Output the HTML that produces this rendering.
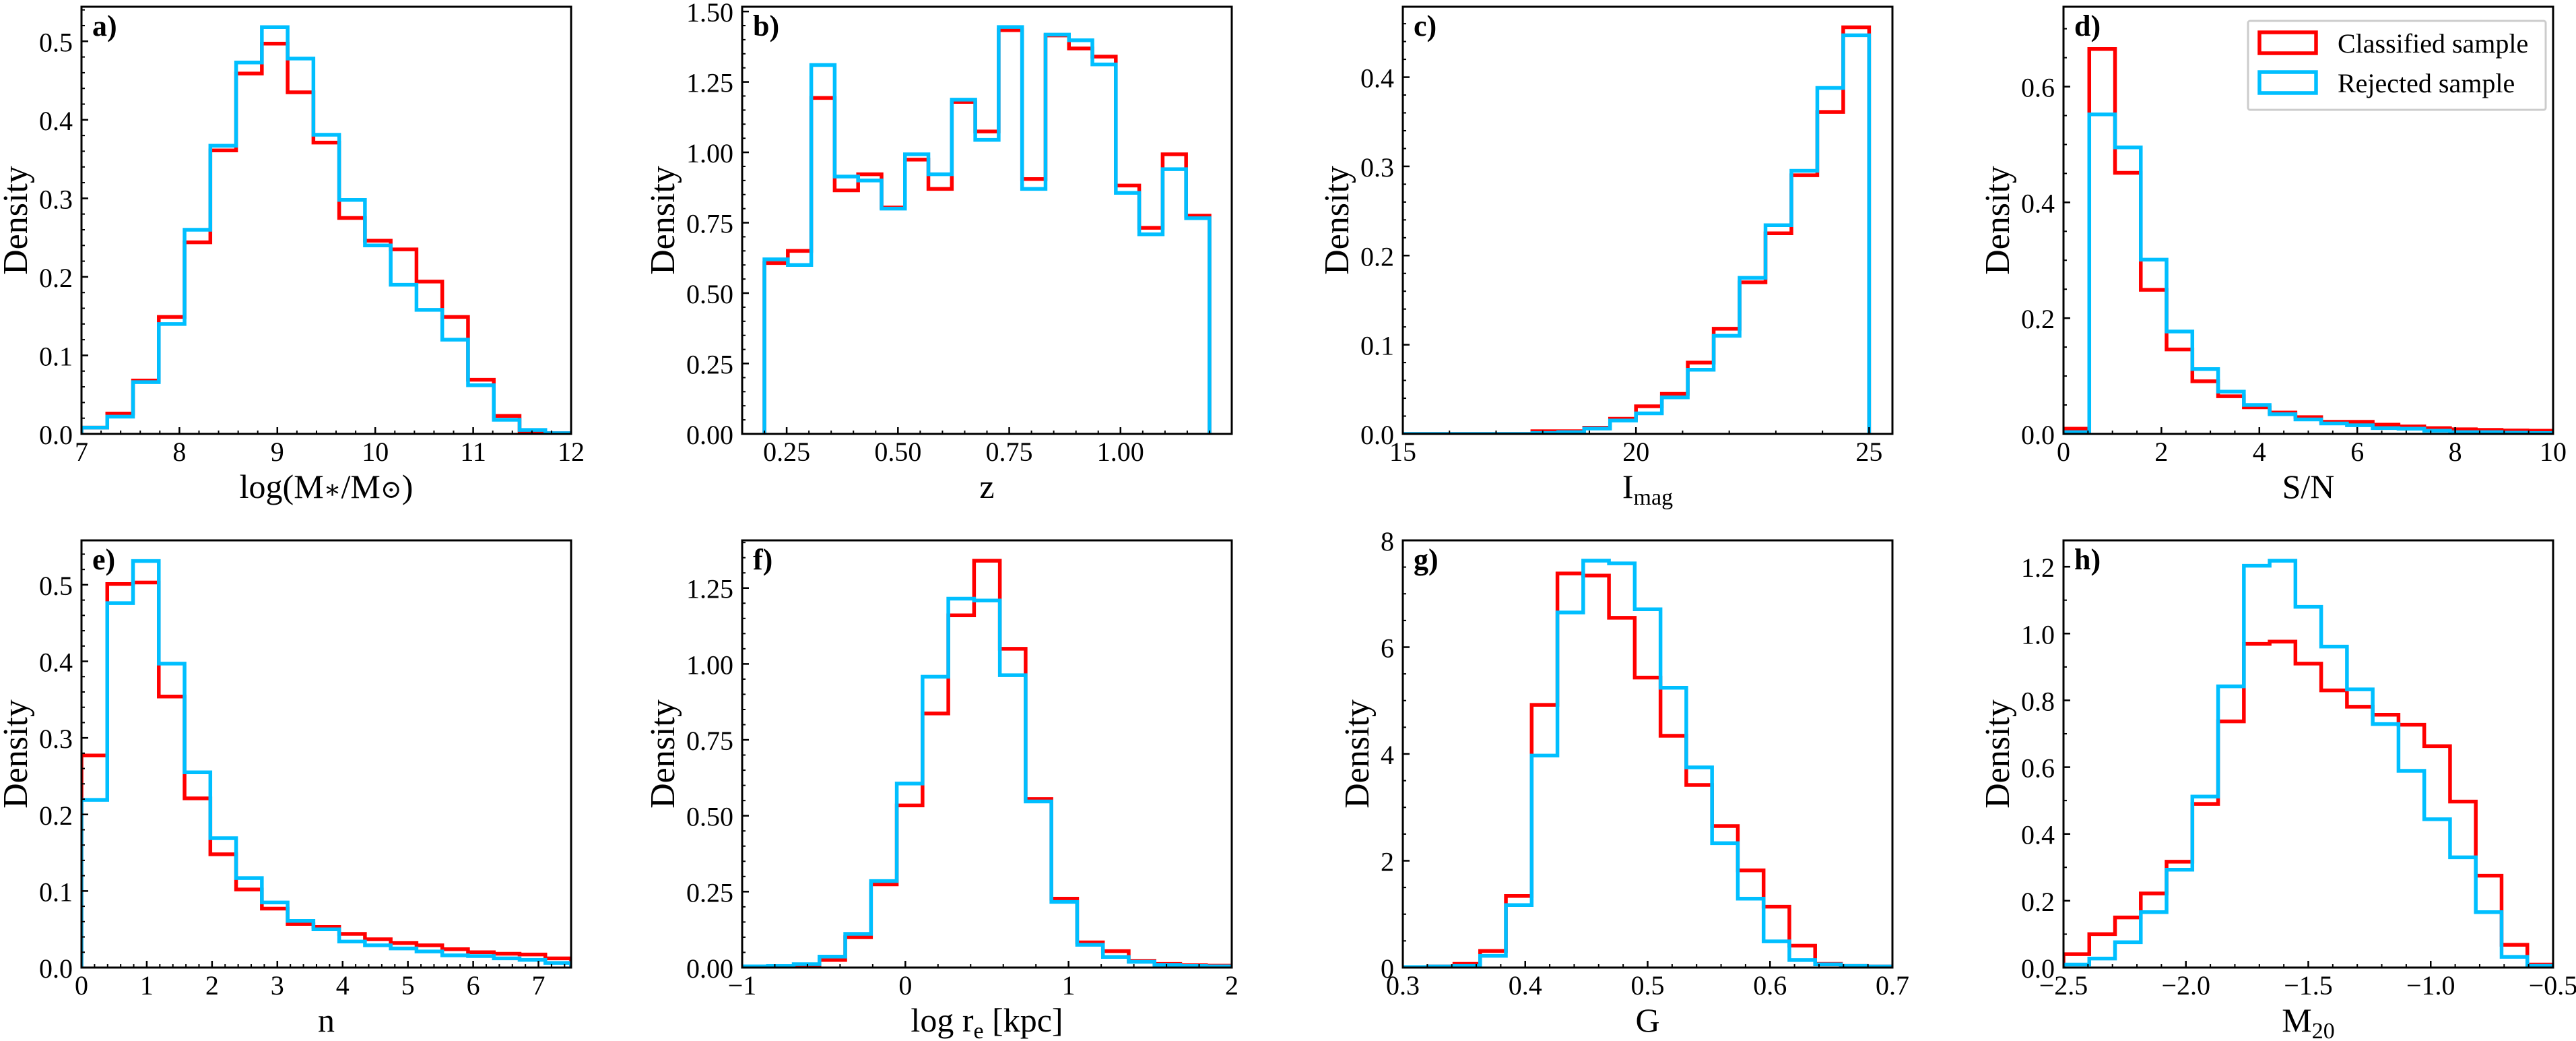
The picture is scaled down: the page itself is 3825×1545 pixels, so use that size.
<!DOCTYPE html>
<html><head><meta charset="utf-8"><style>
html,body{margin:0;padding:0;background:#fff;}
svg{display:block;font-family:"Liberation Serif","DejaVu Serif",serif;}
</style></head><body>
<svg id="fig" xmlns="http://www.w3.org/2000/svg" width="3825" height="1545" viewBox="0 0 3825 1545">
<rect x="0" y="0" width="3825" height="1545" fill="#fff"/>
</svg>
<script>
// ---- data ----
const aRed  = [0.008,0.026,0.068,0.149,0.244,0.361,0.459,0.497,0.435,0.371,0.275,0.246,0.235,0.194,0.149,0.069,0.023,0.001,0.001];
const aBlue = [0.008,0.022,0.066,0.140,0.260,0.367,0.473,0.518,0.478,0.381,0.298,0.240,0.190,0.158,0.120,0.062,0.018,0.005,0.001];
const bRed  = [0.607,0.650,1.193,0.865,0.922,0.804,0.974,0.870,1.179,1.074,1.434,0.905,1.415,1.369,1.340,0.882,0.732,0.993,0.775];
const bBlue = [0.620,0.600,1.310,0.914,0.900,0.800,0.993,0.922,1.187,1.044,1.445,0.870,1.418,1.398,1.312,0.856,0.709,0.940,0.766];
const cRed  = [0,0,0,0,0,0.003,0.003,0.007,0.017,0.031,0.045,0.080,0.118,0.170,0.225,0.290,0.361,0.456];
const cBlue = [0,0,0,0,0,0.001,0.002,0.006,0.015,0.023,0.041,0.072,0.110,0.175,0.234,0.295,0.388,0.447];
const dRed  = [0.009,0.665,0.451,0.249,0.146,0.091,0.065,0.046,0.037,0.029,0.021,0.021,0.016,0.013,0.010,0.008,0.007,0.006,0.0055];
const dBlue = [0.003,0.552,0.495,0.301,0.177,0.112,0.073,0.050,0.034,0.025,0.018,0.015,0.010,0.009,0.0055,0.003,0.003,0.002,0.0015];
const eRed  = [0.277,0.501,0.503,0.354,0.221,0.148,0.102,0.077,0.057,0.053,0.044,0.037,0.032,0.029,0.024,0.020,0.018,0.017,0.012];
const eBlue = [0.219,0.476,0.531,0.397,0.255,0.169,0.117,0.085,0.061,0.050,0.034,0.029,0.025,0.021,0.016,0.015,0.012,0.010,0.006];
const fRed  = [0.003,0.003,0.005,0.025,0.100,0.274,0.534,0.837,1.160,1.340,1.050,0.555,0.227,0.083,0.054,0.022,0.012,0.008,0.006];
const fBlue = [0.004,0.005,0.011,0.036,0.111,0.285,0.606,0.958,1.215,1.209,0.963,0.547,0.216,0.075,0.035,0.019,0.009,0.005,0.004];
const gRed  = [0.01,0.02,0.07,0.31,1.34,4.92,7.38,7.34,6.55,5.43,4.34,3.42,2.65,1.82,1.14,0.41,0.07,0.03,0.02];
const gBlue = [0.01,0.02,0.03,0.22,1.17,3.97,6.65,7.62,7.57,6.71,5.24,3.75,2.33,1.29,0.49,0.14,0.06,0.03,0.02];
const hRed  = [0.040,0.100,0.150,0.222,0.317,0.490,0.737,0.969,0.976,0.910,0.830,0.781,0.757,0.727,0.663,0.497,0.275,0.068,0.009];
const hBlue = [0.009,0.027,0.076,0.166,0.293,0.512,0.842,1.203,1.218,1.080,0.961,0.833,0.729,0.589,0.444,0.330,0.166,0.032,0.005];

const aXTicks = ["7","8","9","10","11","12"];
const aYTicks = ["0.0","0.1","0.2","0.3","0.4","0.5"];
const bXTicks = ["0.25","0.50","0.75","1.00"];
const bYTicks = ["0.00","0.25","0.50","0.75","1.00","1.25","1.50"];
const cXTicks = ["15","20","25"];
const cYTicks = ["0.0","0.1","0.2","0.3","0.4"];
const dXTicks = ["0","2","4","6","8","10"];
const dYTicks = ["0.0","0.2","0.4","0.6"];
const eXTicks = ["0","1","2","3","4","5","6","7"];
const eYTicks = ["0.0","0.1","0.2","0.3","0.4","0.5"];
const fXTicks = ["−1","0","1","2"];
const fYTicks = ["0.00","0.25","0.50","0.75","1.00","1.25"];
const gXTicks = ["0.3","0.4","0.5","0.6","0.7"];
const gYTicks = ["0","2","4","6","8"];
const hXTicks = ["−2.5","−2.0","−1.5","−1.0","−0.5"];
const hYTicks = ["0.0","0.2","0.4","0.6","0.8","1.0","1.2"];
const legendLabels = ["Classified sample","Rejected sample"];

const NS = "http://www.w3.org/2000/svg";
const svg = document.getElementById('fig');
const W = 727, H = 634;
const RED = "#ff0000", BLUE = "#00bfff";

const panels = [
 {id:"a", left:121, top:10, xlim:[7,12], ylim:[0,0.544], bins:[7,12], red:aRed, blue:aBlue, xt:aXTicks, yt:aYTicks, xm:0.2, ym:0.02, xlabel:[["log(M",0],["∗",0,"s"],["/M",0],["⊙",0,"s"],[")",0]]},
 {id:"b", left:1102, top:10, xlim:[0.15,1.25], ylim:[0,1.517], bins:[0.2,1.2], red:bRed, blue:bBlue, xt:bXTicks, yt:bYTicks, xm:0.05, ym:0.05, xlabel:[["z",0]]},
 {id:"c", left:2083, top:10, xlim:[15,25.5], ylim:[0,0.479], bins:[15,25], red:cRed, blue:cBlue, xt:cXTicks, yt:cYTicks, xm:1, ym:0.02, xlabel:[["I",0],["mag",1]]},
 {id:"d", left:3064, top:10, xlim:[0,10], ylim:[0,0.738], bins:[0,10], red:dRed, blue:dBlue, xt:dXTicks, yt:dYTicks, xm:0.5, ym:0.05, xlabel:[["S/N",0]], legend:true},
 {id:"e", left:121, top:802, xlim:[0,7.5], ylim:[0,0.558], bins:[0,7.5], red:eRed, blue:eBlue, xt:eXTicks, yt:eYTicks, xm:0.2, ym:0.02, xlabel:[["n",0]]},
 {id:"f", left:1102, top:802, xlim:[-1,2], ylim:[0,1.407], bins:[-1,2], red:fRed, blue:fBlue, xt:fXTicks, yt:fYTicks, xm:0.2, ym:0.05, xlabel:[["log r",0],["e",1],[" [kpc]",0]]},
 {id:"g", left:2083, top:802, xlim:[0.3,0.7], ylim:[0,8.0], bins:[0.3,0.7], red:gRed, blue:gBlue, xt:gXTicks, yt:gYTicks, xm:0.02, ym:0.5, xlabel:[["G",0]]},
 {id:"h", left:3064, top:802, xlim:[-2.5,-0.5], ylim:[0,1.279], bins:[-2.5,-0.5], red:hRed, blue:hBlue, xt:hXTicks, yt:hYTicks, xm:0.1, ym:0.1, xlabel:[["M",0],["20",1]]}
];

function mk(tag, attrs, parent){
  const el = document.createElementNS(NS, tag);
  for (const k in attrs) el.setAttribute(k, attrs[k]);
  (parent||svg).appendChild(el);
  return el;
}
const num = s => parseFloat(s.replace('−','-'));

panels.forEach(p => {
  const g = mk('g', {});
  
  
  const L = p.left, T = p.top, B = T + H;
  const sx = v => L + (v - p.xlim[0]) / (p.xlim[1] - p.xlim[0]) * W;
  const sy = v => B - (v - p.ylim[0]) / (p.ylim[1] - p.ylim[0]) * H;

  const defs = mk('defs', {}, g);
  const cp = mk('clipPath', {id:'clip-' + p.id}, defs);
  mk('rect', {x:L, y:T, width:W, height:H}, cp);

  [[p.red, RED, 'classified'], [p.blue, BLUE, 'rejected']].forEach(([vals, col, nm]) => {
    const n = vals.length, w = (p.bins[1] - p.bins[0]) / n;
    let d = 'M' + sx(p.bins[0]) + ',' + sy(0);
    vals.forEach((v, i) => {
      const x0 = sx(p.bins[0] + i * w), x1 = sx(p.bins[0] + (i + 1) * w);
      d += ' L' + x0 + ',' + sy(v) + ' L' + x1 + ',' + sy(v);
    });
    d += ' L' + sx(p.bins[1]) + ',' + sy(0);
    const path = mk('path', {d:d, fill:'none', stroke:col, 'stroke-width':5.5, 'stroke-linejoin':'miter', 'clip-path':'url(#clip-' + p.id + ')'}, g);
    
    
  });

  const eps = 1e-9;
  let start = Math.ceil((p.xlim[0] - eps) / p.xm);
  for (let k = start; k * p.xm <= p.xlim[1] + eps; k++) {
    const x = sx(k * p.xm);
    mk('line', {x1:x, y1:B, x2:x, y2:B - 5, stroke:'#000', 'stroke-width':2}, g);
  }
  start = Math.ceil((p.ylim[0] - eps) / p.ym);
  for (let k = start; k * p.ym <= p.ylim[1] + eps; k++) {
    const y = sy(k * p.ym);
    mk('line', {x1:L, y1:y, x2:L + 5, y2:y, stroke:'#000', 'stroke-width':2}, g);
  }
  p.xt.forEach(s => {
    const x = sx(num(s));
    mk('line', {x1:x, y1:B, x2:x, y2:B - 10, stroke:'#000', 'stroke-width':2.5}, g);
    const t = mk('text', {x:x, y:B + 40, 'font-size':40, 'text-anchor':'middle', fill:'#000'}, g);
    t.textContent = s;
    
    
  });
  let maxW = 0;
  p.yt.forEach(s => {
    const y = sy(num(s));
    mk('line', {x1:L, y1:y, x2:L + 10, y2:y, stroke:'#000', 'stroke-width':2.5}, g);
    const t = mk('text', {x:L - 13, y:y + 15, 'font-size':40, 'text-anchor':'end', fill:'#000'}, g);
    t.textContent = s;
    
    
    let wdt = 0;
    try { wdt = t.getComputedTextLength(); } catch(e) { wdt = s.length * 17; }
    if (!wdt) wdt = s.length * 17;
    maxW = Math.max(maxW, wdt);
  });

  const fr = mk('rect', {x:L, y:T, width:W, height:H, fill:'none', stroke:'#000', 'stroke-width':3}, g);
  
  

  const pl = mk('text', {x:L + 16, y:T + 43, 'font-size':44, 'font-weight':'bold', fill:'#000'}, g);
  pl.textContent = p.id + ')';
  
  

  const off = 13 + maxW + 18;
  const yl = mk('text', {x:0, y:0, 'font-size':52, 'text-anchor':'middle', fill:'#000', transform:'translate(' + (L - off) + ',' + (T + H / 2) + ') rotate(-90)'}, g);
  yl.textContent = 'Density';
  
  

  const xl = mk('text', {x:L + W / 2, y:B + 95, 'font-size':50, 'text-anchor':'middle', fill:'#000'}, g);
  
  
  p.xlabel.forEach(part => {
    const prev = xl.lastChild;
    const ts = mk('tspan', {}, xl);
    if (part[1] === 1) { ts.setAttribute('font-size', 34); ts.setAttribute('dy', 10); }
    else if (part[2] === 's') { ts.setAttribute('font-size', 38); }
    ts.textContent = part[0];
    if (part[1] !== 1 && prev && prev.getAttribute && prev.getAttribute('dy') === '10') ts.setAttribute('dy', -10);
  });

  if (p.legend) {
    const lg = mk('g', {}, g);
    
    
    mk('rect', {x:3338, y:31, width:442, height:132, fill:'#fff', stroke:'#cccccc', 'stroke-width':3, rx:3}, lg);
    [RED, BLUE].forEach((col, i) => {
      const e = mk('g', {}, lg);
      
      
      mk('rect', {x:3355, y:48 + i * 59, width:84, height:31, fill:'none', stroke:col, 'stroke-width':5.5}, e);
      const t = mk('text', {x:3471, y:78 + i * 59, 'font-size':40, fill:'#000'}, e);
      t.textContent = legendLabels[i];
    });
  }
});
</script>
</body></html>
